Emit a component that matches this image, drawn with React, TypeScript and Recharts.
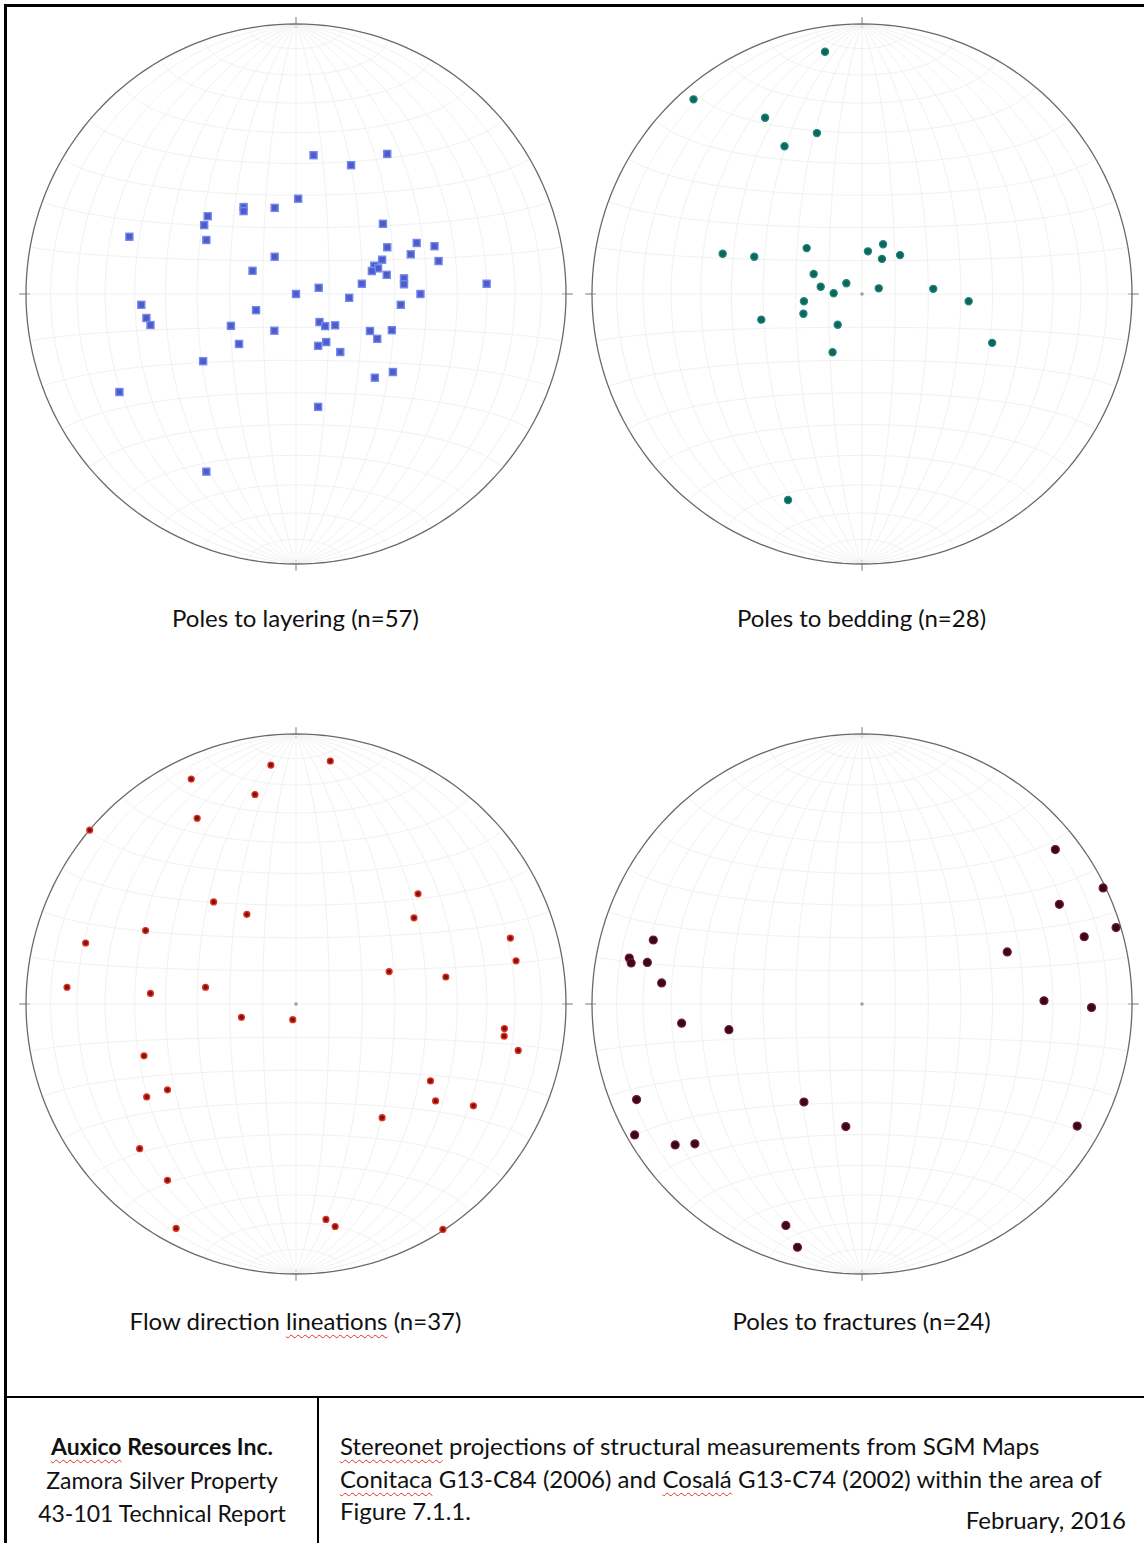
import React from 'react';
import { ScatterChart, Scatter, XAxis, YAxis, ReferenceLine } from 'recharts';

const layeringPoles: [number, number][] = [
  [6.5, 51.4], [33.8, 51.9], [20.4, 47.7], [0.8, 35.3], [-19.4, 32.2], [-19.4, 30.7],
  [-7.9, 31.9], [-32.7, 28.8], [-34.0, 25.5], [-33.2, 20.0], [-61.7, 21.2], [32.2, 26.0],
  [-7.9, 13.8], [-16.1, 8.6], [33.8, 17.3], [44.7, 18.9], [51.3, 17.7], [52.8, 12.2],
  [42.5, 14.7], [31.9, 12.7], [29.0, 10.5], [30.4, 9.5], [28.1, 8.5], [33.6, 7.1],
  [40.0, 5.8], [40.0, 3.6], [24.4, 3.8], [70.6, 3.8], [8.4, 2.3], [0.0, 0.0],
  [19.7, -1.4], [46.1, 0.0], [38.8, -4.0], [-57.3, -4.0], [-55.4, -8.9], [-53.9, -11.5],
  [-14.8, -6.0], [-24.1, -11.8], [-8.0, -13.6], [-21.1, -18.5], [8.7, -10.4], [10.8, -11.9],
  [14.5, -11.6], [11.2, -17.8], [8.2, -19.2], [16.4, -21.5], [27.4, -13.7], [30.1, -16.6],
  [35.5, -13.4], [-34.4, -24.9], [29.2, -31.0], [35.9, -28.9], [-65.4, -36.3], [8.2, -41.8],
  [-33.2, -65.8],
];

const beddingPoles: [number, number][] = [
  [-13.7, 89.7], [-62.4, 72.1], [-35.9, 65.3], [-16.7, 59.6], [-28.7, 54.7], [-51.6, 14.9],
  [-39.9, 13.8], [-20.5, 17.0], [2.2, 15.8], [7.8, 18.4], [7.4, 13.0], [14.1, 14.4],
  [-17.9, 7.4], [-15.3, 2.7], [-5.8, 4.0], [-10.5, 0.3], [6.2, 2.1], [26.4, 1.9],
  [39.5, -2.7], [-21.5, -2.7], [-21.7, -7.3], [-37.3, -9.5], [-9.0, -11.4], [-10.9, -21.6],
  [48.2, -18.1], [-27.4, -76.3],
];

const flowLineations: [number, number][] = [
  [12.7, 90.0], [-9.3, 88.5], [-38.8, 83.3], [-15.2, 77.6], [-36.6, 68.8], [-76.4, 64.4],
  [45.2, 40.8], [-30.5, 37.8], [-18.2, 33.2], [43.7, 31.9], [-55.7, 27.2], [-77.9, 22.6],
  [79.4, 24.4], [81.5, 16.0], [34.5, 12.0], [55.5, 10.0], [-84.8, 6.2], [-33.5, 6.2],
  [-53.9, 3.9], [-20.2, -4.9], [-1.2, -5.8], [77.2, -9.1], [77.1, -11.9], [82.3, -17.2],
  [-56.3, -19.2], [49.8, -28.5], [-47.6, -31.8], [-55.3, -34.4], [51.7, -35.9], [65.7, -37.7],
  [31.9, -42.1], [-57.9, -53.6], [-47.6, -65.3], [11.1, -79.8], [14.5, -82.4], [-44.4, -83.1],
  [54.4, -83.5],
];

const fracturePoles: [number, number][] = [
  [71.6, 57.2], [89.3, 43.0], [73.1, 36.9], [94.1, 28.3], [82.3, 24.9], [53.8, 19.3],
  [-77.3, 23.7], [-86.2, 17.0], [-85.5, 15.2], [-79.5, 15.4], [-74.2, 7.8], [67.4, 1.2],
  [85.0, -1.3], [-66.8, -7.1], [-49.3, -9.5], [-83.5, -35.4], [-21.5, -36.3], [-84.2, -48.5],
  [-69.2, -52.2], [-61.9, -51.8], [-6.0, -45.4], [79.7, -45.2], [-28.2, -82.0], [-23.9, -90.1],
];

const R = 270;
const SIZE = 560;
const D = SIZE / 2 / R;
const GRID = '#eeeeee';
const FONT = 'Lato, "Open Sans", sans-serif';

const toRad = (d: number) => (d * Math.PI) / 180;
const range = (from: number, to: number, step: number) => {
  const out: number[] = [];
  for (let v = from; v <= to + 1e-9; v += step) out.push(v);
  return out;
};

// equal-area (Schmidt) equatorial net
const schmidt = (lon: number, lat: number) => {
  const a = toRad(lon);
  const b = toRad(lat);
  const k = Math.sqrt(1 / (1 + Math.cos(b) * Math.cos(a)));
  return { x: k * Math.cos(b) * Math.sin(a), y: k * Math.sin(b) };
};
const meridians = range(-80, 80, 10).map((lon) => range(-90, 90, 3).map((lat) => schmidt(lon, lat)));
const parallels = range(-80, 80, 10).map((lat) => range(-90, 90, 3).map((lon) => schmidt(lon, lat)));
const primitive = range(0, 360, 2).map((t) => ({ x: Math.cos(toRad(t)), y: Math.sin(toRad(t)) }));

const toPoints = (list: [number, number][]) => list.map(([x, y]) => ({ x: x / 100, y: y / 100 }));

const noDot = () => <g />;
const centerDot = (p: any) => <circle cx={p.cx} cy={p.cy} r={1.8} fill="#a0a0a0" />;
const squareDot = (p: any) => (
  <rect x={p.cx - 3.5} y={p.cy - 3.5} width={7} height={7} fill="#4e5cc4" stroke="#7086f2" strokeWidth={1.4} />
);
const tealDot = (p: any) => <circle cx={p.cx} cy={p.cy} r={3.6} fill="#0c665e" stroke="#22887d" strokeWidth={1.2} />;
const redDot = (p: any) => <circle cx={p.cx} cy={p.cy} r={2.9} fill="#7a1212" stroke="#e3321f" strokeWidth={1.4} />;
const maroonDot = (p: any) => <circle cx={p.cx} cy={p.cy} r={4} fill="#380818" stroke="#7a1743" strokeWidth={1.2} />;

interface NetProps {
  points: { x: number; y: number }[];
  dot: (p: any) => React.ReactElement;
  left: number;
  top: number;
}

const Stereonet: React.FC<NetProps> = ({ points, dot, left, top }) => (
  <div style={{ position: 'absolute', left, top }}>
    <ScatterChart width={SIZE} height={SIZE} margin={{ top: 0, right: 0, bottom: 0, left: 0 }}>
      <XAxis type="number" dataKey="x" domain={[-D, D]} allowDataOverflow hide />
      <YAxis type="number" dataKey="y" domain={[-D, D]} allowDataOverflow hide />
      {meridians.map((m, i) => (
        <Scatter key={'m' + i} data={m} line={{ stroke: GRID, strokeWidth: 0.8 }} shape={noDot} isAnimationActive={false} />
      ))}
      {parallels.map((m, i) => (
        <Scatter key={'p' + i} data={m} line={{ stroke: GRID, strokeWidth: 0.8 }} shape={noDot} isAnimationActive={false} />
      ))}
      <Scatter data={primitive} line={{ stroke: '#6a6a6a', strokeWidth: 1.3 }} shape={noDot} isAnimationActive={false} />
      <ReferenceLine segment={[{ x: 0, y: 0.985 }, { x: 0, y: 1.025 }]} stroke="#777" />
      <ReferenceLine segment={[{ x: 0, y: -0.985 }, { x: 0, y: -1.025 }]} stroke="#777" />
      <ReferenceLine segment={[{ x: 0.985, y: 0 }, { x: 1.025, y: 0 }]} stroke="#777" />
      <ReferenceLine segment={[{ x: -0.985, y: 0 }, { x: -1.025, y: 0 }]} stroke="#777" />
      <Scatter data={[{ x: 0, y: 0 }]} shape={centerDot} isAnimationActive={false} />
      <Scatter data={points} shape={dot} isAnimationActive={false} />
    </ScatterChart>
  </div>
);

const squiggle: React.CSSProperties = {
  textDecoration: 'underline wavy #e0332b',
  textDecorationThickness: 1,
  textUnderlineOffset: 4,
};

// net titles are centred under each circle
const label = (cx: number, top: number): React.CSSProperties => ({
  position: 'absolute',
  left: cx - 250,
  width: 500,
  top,
  textAlign: 'center',
  fontFamily: FONT,
  fontSize: 24,
  lineHeight: '30px',
  color: '#111',
  whiteSpace: 'nowrap',
});

const App: React.FC = () => (
  <div
    style={{
      position: 'absolute',
      left: 0,
      top: 0,
      width: 1144,
      height: 1543,
      overflow: 'hidden',
      background: '#fff',
    }}
  >
    <div style={{ position: 'absolute', left: 4, top: 4, width: 1160, height: 1560, border: '3px solid #000' }} />

    <Stereonet points={toPoints(layeringPoles)} dot={squareDot} left={15.5} top={14} />
    <Stereonet points={toPoints(beddingPoles)} dot={tealDot} left={581.5} top={14} />
    <Stereonet points={toPoints(flowLineations)} dot={redDot} left={15.5} top={723.5} />
    <Stereonet points={toPoints(fracturePoles)} dot={maroonDot} left={581.5} top={723.5} />

    <div style={label(295.5, 603)}>Poles to layering (n=57)</div>
    <div style={label(861.5, 603)}>Poles to bedding (n=28)</div>
    <div style={label(295.5, 1306)}>
      Flow direction <span style={squiggle}>lineations</span> (n=37)
    </div>
    <div style={label(861.5, 1306)}>Poles to fractures (n=24)</div>

    <div style={{ position: 'absolute', left: 4, top: 1396, width: 1150, borderTop: '2px solid #000' }} />
    <div style={{ position: 'absolute', left: 317, top: 1396, height: 160, borderLeft: '2px solid #000' }} />

    <div style={{ position: 'absolute', left: 7, top: 1430, width: 310, textAlign: 'center', fontFamily: FONT, fontSize: 23, lineHeight: '33.5px', color: '#111' }}>
      <div style={{ fontWeight: 700 }}>
        <span style={squiggle}>Auxico</span> Resources Inc.
      </div>
      <div>Zamora Silver Property</div>
      <div>43-101 Technical Report</div>
    </div>

    <div style={{ position: 'absolute', left: 340, top: 1430, fontFamily: FONT, fontSize: 24, lineHeight: '32.5px', color: '#111', whiteSpace: 'nowrap' }}>
      <div>
        <span style={squiggle}>Stereonet</span> projections of structural measurements from SGM Maps
      </div>
      <div>
        <span style={squiggle}>Conitaca</span> G13-C84 (2006) and <span style={squiggle}>Cosalá</span> G13-C74 (2002) within the area of
      </div>
      <div>Figure 7.1.1.</div>
    </div>
    <div style={{ position: 'absolute', right: 18, top: 1504, fontFamily: FONT, fontSize: 24, lineHeight: '32px', color: '#111' }}>
      February, 2016
    </div>
  </div>
);

export default App;
